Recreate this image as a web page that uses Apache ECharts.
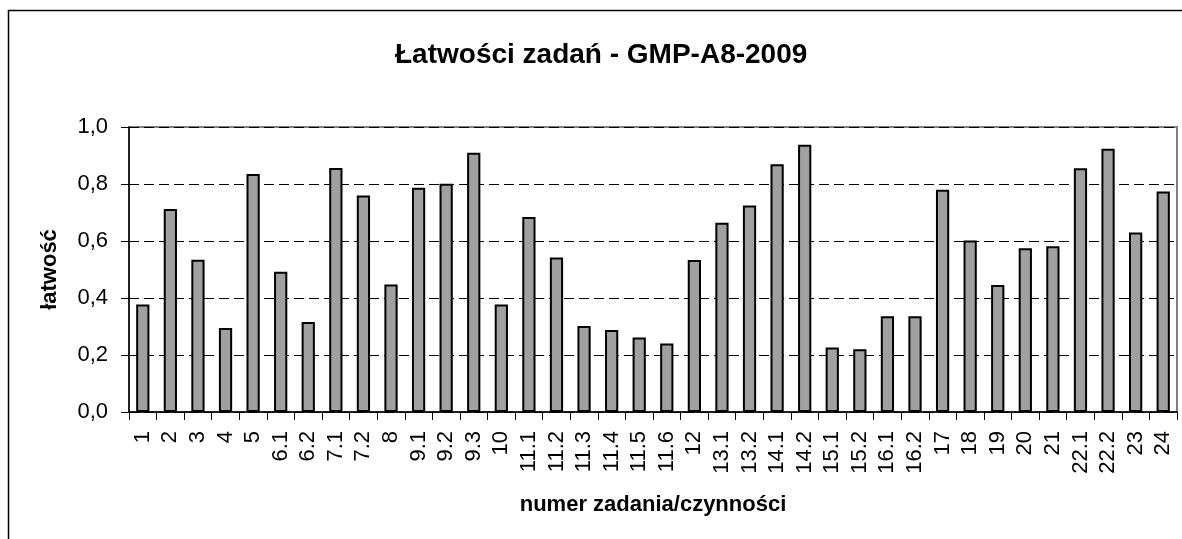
<!DOCTYPE html>
<html>
<head>
<meta charset="utf-8">
<script src="https://cdn.jsdelivr.net/npm/echarts@6/dist/echarts.min.js"></script>
<style>
  html, body { margin: 0; padding: 0; background: #fff; }
  #chart { width: 1182px; height: 539px; }
</style>
</head>
<body>
<div id="chart"></div>
<script>
// numery zadań / czynności
const categories = [
  '1', '2', '3', '4', '5', '6.1', '6.2', '7.1', '7.2', '8',
  '9.1', '9.2', '9.3', '10', '11.1', '11.2', '11.3', '11.4', '11.5', '11.6',
  '12', '13.1', '13.2', '14.1', '14.2', '15.1', '15.2', '16.1', '16.2', '17',
  '18', '19', '20', '21', '22.1', '22.2', '23', '24'
]
// łatwość
const easiness = [
  0.377, 0.712, 0.534, 0.295, 0.835, 0.492, 0.316, 0.856, 0.760, 0.447,
  0.787, 0.801, 0.910, 0.377, 0.684, 0.542, 0.302, 0.288, 0.261, 0.240,
  0.533, 0.664, 0.725, 0.869, 0.938, 0.226, 0.220, 0.336, 0.336, 0.780,
  0.602, 0.446, 0.575, 0.582, 0.855, 0.924, 0.630, 0.774
]
const yTicks = [0, 0.2, 0.4, 0.6, 0.8, 1.0]

const font = 'Liberation Sans, Arial, sans-serif'

const chart = echarts.init(document.getElementById('chart'))
chart.setOption({
  animation: false,
  title: {
    text: 'Łatwości zadań - GMP-A8-2009',
    left: 390,
    top: 36,
    textStyle: { fontFamily: font, fontSize: 28, fontWeight: 'bold', color: '#000' }
  },
  graphic: [
    {
      type: 'rect',
      shape: { x: 8.5, y: 10.5, width: 1300, height: 700 },
      style: { fill: 'none', stroke: '#000', lineWidth: 1.5 },
      silent: true
    }
  ],
  grid: {
    left: 129,
    right: 5,
    top: 127,
    bottom: 127,
    show: true,
    borderColor: '#808080',
    borderWidth: 2
  },
  xAxis: {
    type: 'category',
    data: categories,
    name: 'numer zadania/czynności',
    nameLocation: 'middle',
    nameGap: 82,
    nameTextStyle: { fontFamily: font, fontSize: 22, fontWeight: 'bold', color: '#000' },
    axisLine: { lineStyle: { color: '#000', width: 1.5 } },
    axisTick: { show: true, length: 8, alignWithLabel: false, lineStyle: { color: '#000' } },
    axisLabel: {
      rotate: 90,
      interval: 0,
      margin: 19,
      fontFamily: font,
      fontSize: 22,
      color: '#000'
    }
  },
  yAxis: {
    type: 'value',
    min: 0,
    max: 1,
    interval: 0.2,
    name: 'łatwość',
    nameLocation: 'middle',
    nameGap: 68,
    nameTextStyle: { fontFamily: font, fontSize: 22, fontWeight: 'bold', color: '#000' },
    axisLine: { show: true, lineStyle: { color: '#000', width: 1.5 } },
    axisTick: { show: true, length: 8, inside: false, lineStyle: { color: '#000' } },
    axisLabel: {
      margin: 21,
      fontFamily: font,
      fontSize: 22,
      color: '#000',
      formatter: function (v) {
        return yTicks.indexOf(v) >= 0 ? v.toFixed(1).replace('.', ',') : ''
      }
    },
    splitLine: { show: true, lineStyle: { color: '#000', type: [10, 5], width: 1 } }
  },
  series: [
    {
      type: 'bar',
      data: easiness,
      barCategoryGap: '52%',
      itemStyle: { color: '#a0a0a0', borderColor: '#000', borderWidth: 2 }
    }
  ]
})
</script>
</body>
</html>
